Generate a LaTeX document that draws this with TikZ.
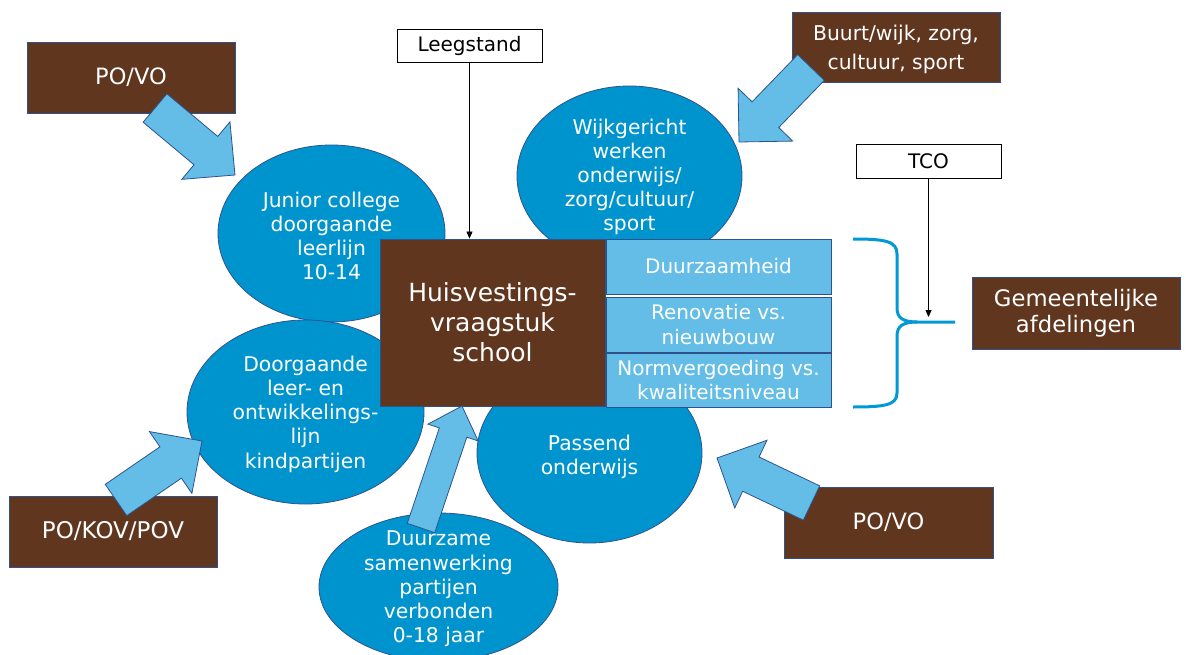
\documentclass[tikz,border=0pt]{standalone}
\usepackage{fontspec}
\setmainfont{DejaVu Sans}
\usetikzlibrary{shapes.geometric,calc,arrows.meta}

\definecolor{brownbox}{RGB}{96,54,31}
\definecolor{lightblue}{RGB}{99,189,230}
\definecolor{midblue}{RGB}{0,148,206}
\definecolor{edgeblue}{RGB}{47,82,143}
\definecolor{bracecol}{RGB}{0,153,214}

\tikzset{
  bubble/.style={ellipse, fill=midblue, draw=edgeblue, line width=0.8pt, inner sep=0pt},
  bubbletext/.style={text=white, align=center, inner sep=0pt, font=\fontsize{20.3}{24.2}\selectfont},
  srcbox/.style={rectangle, fill=brownbox, draw=edgeblue, line width=0.8pt, inner sep=0pt, text=white, align=center},
  plaintext/.style={text=white, align=center, inner sep=0pt},
  aspect/.style={rectangle, fill=lightblue, draw=edgeblue, line width=0.8pt, inner sep=0pt,
    text=white, align=center, minimum width=225pt, font=\fontsize{20}{24.5}\selectfont},
  tagbox/.style={rectangle, fill=white, draw=black, line width=0.8pt, inner sep=0pt,
    align=center, font=\fontsize{20}{24}\selectfont},
  arrowbody/.style={fill=lightblue, draw=edgeblue, line width=0.8pt, line join=miter},
  pointer/.style={-{Triangle[length=7pt,width=6pt]}, line width=0.8pt},
  bracket/.style={draw=bracecol, line width=3pt},
}

% block arrow: #1 tail, #2 tip, #3 half shaft width, #4 half head width, #5 head length
\newcommand{\blockarrow}[5]{%
  \path ($(#2)!#5!(#1)$) coordinate (ba-base);
  \draw[arrowbody] ($(#1)!#3!90:(#2)$) -- ($(ba-base)!#3!90:(#2)$)
    -- ($(ba-base)!#4!90:(#2)$) -- (#2) -- ($(ba-base)!#4!-90:(#2)$)
    -- ($(ba-base)!#3!-90:(#2)$) -- ($(#1)!#3!-90:(#2)$) -- cycle;
}

\begin{document}
\begin{tikzpicture}[x=1pt,y=-1pt]
\useasboundingbox (0,0) rectangle (1186,655);
\clip (0,0) rectangle (1186,655);

% topic bubbles
\node[bubble, minimum width=227pt, minimum height=177pt] (junior) at (331.5,233.5) {};
\node[bubbletext] (juniort) at (331.5,236) {Junior college\\doorgaande\\leerlijn\\10-14};
\node[bubble, minimum width=237pt, minimum height=184pt] (doorg) at (305.5,412) {};
\node[bubbletext] (doorgt) at (305.5,414) {Doorgaande\\leer- en\\ontwikkelings-\\lijn\\kindpartijen};
\node[bubble, minimum width=225pt, minimum height=180pt] (wijk) at (629.5,176) {};
\node[bubbletext] (wijkt) at (629.5,177) {Wijkgericht\\werken\\onderwijs/\\zorg/cultuur/\\sport};
\node[bubble, minimum width=225pt, minimum height=180pt] (passend) at (589.5,453) {};
\node[bubbletext] (passendt) at (589.5,457) {Passend\\onderwijs};
\node[bubble, minimum width=239pt, minimum height=148pt] (duurz) at (438.5,587) {};
\node[bubbletext] (duurzt) at (438.5,589) {Duurzame\\samenwerking\\partijen\\verbonden\\0-18 jaar};

% central question and its aspects
\node[srcbox, minimum width=225pt, minimum height=167pt, font=\fontsize{25}{30}\selectfont]
  (main) at (492.5,322.5) {Huisvestings-\\vraagstuk\\school};
\node[aspect, minimum height=55pt] (asp1) at (718.5,266.5) {Duurzaamheid};
\node[aspect, minimum height=55pt] (asp2) at (718.5,324.5) {Renovatie vs.\\nieuwbouw};
\node[aspect, minimum height=54pt] (asp3) at (718.5,380) {Normvergoeding vs.\\kwaliteitsniveau};

% parties
\node[srcbox, minimum width=208pt, minimum height=71pt, font=\fontsize{22.5}{27}\selectfont]
  (povo1) at (131,77.5) {PO/VO};
\node[srcbox, minimum width=208pt, minimum height=70pt] (buurt) at (896,47) {};
\node[plaintext, font=\fontsize{20.3}{29}\selectfont] (buurtt) at (896,49.5) {Buurt/wijk, zorg,\\cultuur, sport};
\node[srcbox, minimum width=208pt, minimum height=71pt, font=\fontsize{23}{27}\selectfont]
  (pokov) at (113,531.5) {PO/KOV/POV};
\node[srcbox, minimum width=209pt, minimum height=71pt, font=\fontsize{22.5}{27}\selectfont]
  (povo2) at (888.5,522.5) {PO/VO};
\node[srcbox, minimum width=208pt, minimum height=72pt, font=\fontsize{22.7}{26.5}\selectfont]
  (gem) at (1076,313) {Gemeentelijke\\afdelingen};

% block arrows from parties to topics
\coordinate (tl-s) at (155,108);   \coordinate (tl-t) at (235,175);
\coordinate (tr-s) at (811,67.5);  \coordinate (tr-t) at (739,142);
\coordinate (bl-s) at (116,500);   \coordinate (bl-t) at (202,441);
\coordinate (bm-s) at (421,528);   \coordinate (bm-t) at (462,406);
\coordinate (br-s) at (811.5,503); \coordinate (br-t) at (717,458);
\blockarrow{tl-s}{tl-t}{18.5pt}{37.5pt}{38pt}
\blockarrow{tr-s}{tr-t}{18.5pt}{38pt}{38pt}
\blockarrow{bl-s}{bl-t}{19pt}{37.5pt}{38pt}
\blockarrow{bm-s}{bm-t}{14.5pt}{26.5pt}{28pt}
\blockarrow{br-s}{br-t}{19pt}{37.5pt}{37.5pt}

% labels with pointers
\node[tagbox, minimum width=145pt, minimum height=33pt] (leeg) at (469.5,45.5) {Leegstand};
\draw[pointer] (leeg.south) -- (leeg.south |- main.north);

\node[tagbox, minimum width=145pt, minimum height=34pt] (tco) at (928.5,161) {TCO};
\coordinate (bracetip) at (955,322);
\coordinate (tcoend) at (928.5,317);
\draw[pointer] (tco.south) -- (tcoend);

% brace grouping the aspects
\draw[bracket] (853,239) .. controls (885,239) and (897,241) .. (897,254) -- (897,308)
  .. controls (897,318) and (903,322) .. (917,322) -- (bracetip);
\draw[bracket] (917,322) .. controls (903,322) and (897,326) .. (897,336) -- (897,393)
  .. controls (897,405) and (885,407) .. (853,407);
\end{tikzpicture}
\end{document}
